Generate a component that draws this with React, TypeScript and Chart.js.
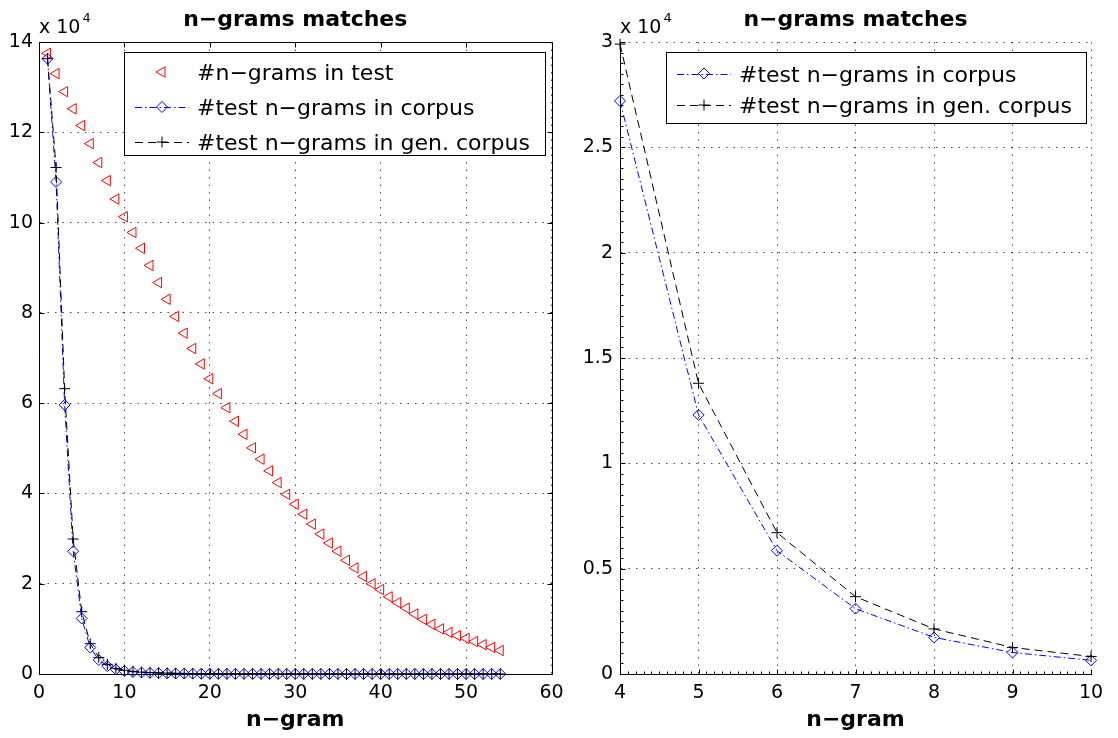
import React, { useEffect, useRef } from "react";
import { Chart, registerables } from "chart.js";

Chart.register(...registerables);

const FONT = "'DejaVu Sans', 'Liberation Sans', sans-serif";

// ---------------- data ----------------
const nGram = [
  1, 2, 3, 4, 5, 6, 7, 8, 9, 10, 11, 12, 13, 14, 15, 16, 17, 18, 19, 20,
  21, 22, 23, 24, 25, 26, 27, 28, 29, 30, 31, 32, 33, 34, 35, 36, 37, 38, 39, 40,
  41, 42, 43, 44, 45, 46, 47, 48, 49, 50, 51, 52, 53, 54,
];

const testNgrams = [
  137500, 133000, 129000, 125200, 121500, 117500, 113300, 109300, 105200, 101300,
  97800, 94300, 90500, 86700, 83000, 79200, 75500, 72100, 68700, 65400,
  62100, 59000, 56000, 53100, 50100, 47600, 45000, 42400, 39800, 37600,
  35400, 33200, 31000, 29000, 27200, 25200, 23500, 21600, 20000, 18700,
  17100, 15800, 14600, 13300, 12100, 11000, 10000, 9200, 8500, 7900,
  7200, 6500, 5900, 5200,
];

const corpusMatches = [
  136300, 109000, 59600, 27200, 12300, 5850, 3100, 1740, 1020, 650,
  450, 320, 240, 180, 140, 110, 90, 75, 62, 52,
  44, 38, 33, 29, 25, 22, 19, 17, 15, 13,
  12, 11, 10, 9, 8, 7, 7, 6, 6, 5,
  5, 4, 4, 4, 3, 3, 3, 2, 2, 2,
  2, 1, 1, 1,
];

const genCorpusMatches = [
  136300, 112200, 63200, 29900, 13800, 6710, 3670, 2140, 1260, 830,
  580, 420, 320, 250, 200, 160, 130, 110, 92, 78,
  66, 57, 49, 43, 38, 33, 29, 26, 23, 21,
  19, 17, 15, 14, 12, 11, 10, 9, 8, 8,
  7, 6, 6, 5, 5, 4, 4, 4, 3, 3,
  3, 2, 2, 2,
];

const labelTest = "#n\u2212grams in test";
const labelCorpus = "#test n\u2212grams in corpus";
const labelGen = "#test n\u2212grams in gen. corpus";
const chartTitle = "n\u2212grams matches";
const xTitle = "n\u2212gram";
const expBase = "x 10";
const expPower = "4";

const leftXTicks = [0, 10, 20, 30, 40, 50, 60];
const leftYTicks = [0, 20000, 40000, 60000, 80000, 100000, 120000, 140000];
const rightXTicks = [4, 5, 6, 7, 8, 9, 10];
const rightYTicks = [0, 5000, 10000, 15000, 20000, 25000, 30000];
const yDivisor = 10000;

// ---------------- helpers ----------------
function drawMarker(ctx: CanvasRenderingContext2D, style: string, x: number, y: number, r: number, color: string) {
  ctx.save();
  ctx.setLineDash([]);
  ctx.strokeStyle = color;
  ctx.lineWidth = 1;
  ctx.beginPath();
  if (style === "triangle") {
    let rad = -Math.PI / 2;
    ctx.moveTo(x + Math.sin(rad) * r, y - Math.cos(rad) * r);
    rad += (2 * Math.PI) / 3;
    ctx.lineTo(x + Math.sin(rad) * r, y - Math.cos(rad) * r);
    rad += (2 * Math.PI) / 3;
    ctx.lineTo(x + Math.sin(rad) * r, y - Math.cos(rad) * r);
    ctx.closePath();
  } else if (style === "rectRot") {
    ctx.moveTo(x - r, y);
    ctx.lineTo(x, y - r);
    ctx.lineTo(x + r, y);
    ctx.lineTo(x, y + r);
    ctx.closePath();
  } else if (style === "cross") {
    ctx.moveTo(x - r, y);
    ctx.lineTo(x + r, y);
    ctx.moveTo(x, y - r);
    ctx.lineTo(x, y + r);
  }
  ctx.stroke();
  ctx.restore();
}

type LegendSpec = { left: number; top: number; right: number; bottom: number; baselines: number[] };
type DecorSpec = {
  fullBox: boolean;
  xMajor: number[];
  yMajor: number[];
  xMinorStep?: number;
  yMinorStep?: number;
  legend: LegendSpec;
};

function makeDecor(spec: DecorSpec) {
  return {
    id: "decor",
    afterDraw(chart: any) {
      const ctx: CanvasRenderingContext2D = chart.ctx;
      const a = chart.chartArea;
      const xs = chart.scales.x;
      const ys = chart.scales.y;
      const px = (v: number) => Math.round(v) + 0.5;
      const L = px(a.left), R = px(a.right), T = px(a.top), B = px(a.bottom);
      ctx.save();
      ctx.setLineDash([]);
      ctx.strokeStyle = "#000";
      ctx.lineWidth = 1;
      ctx.beginPath();
      if (spec.fullBox) {
        ctx.moveTo(L, T);
        ctx.lineTo(R, T);
        ctx.lineTo(R, B);
      }
      for (const v of spec.xMajor) {
        const x = px(xs.getPixelForValue(v));
        ctx.moveTo(x, B);
        ctx.lineTo(x, B - 5);
        if (spec.fullBox) {
          ctx.moveTo(x, T);
          ctx.lineTo(x, T + 5);
        }
      }
      for (const v of spec.yMajor) {
        const y = px(ys.getPixelForValue(v));
        ctx.moveTo(L, y);
        ctx.lineTo(L + 5, y);
        if (spec.fullBox) {
          ctx.moveTo(R, y);
          ctx.lineTo(R - 5, y);
        }
      }
      if (spec.xMinorStep) {
        const n = Math.round((xs.max - xs.min) / spec.xMinorStep);
        for (let k = 1; k < n; k++) {
          const x = px(xs.getPixelForValue(xs.min + k * spec.xMinorStep));
          ctx.moveTo(x, B);
          ctx.lineTo(x, B - 3);
        }
      }
      if (spec.yMinorStep) {
        const n = Math.round((ys.max - ys.min) / spec.yMinorStep);
        for (let k = 1; k < n; k++) {
          const y = px(ys.getPixelForValue(ys.min + k * spec.yMinorStep));
          ctx.moveTo(L, y);
          ctx.lineTo(L + 3, y);
        }
      }
      ctx.stroke();

      const cx = (a.left + a.right) / 2;
      ctx.fillStyle = "#000";
      ctx.textAlign = "center";
      ctx.textBaseline = "alphabetic";
      ctx.font = `bold 22px ${FONT}`;
      ctx.fillText(chartTitle, cx, 26);
      ctx.fillText(xTitle, cx, 726);

      ctx.textAlign = "left";
      ctx.font = `19px ${FONT}`;
      ctx.fillText(expBase, a.left, 33);
      const w = ctx.measureText(expBase).width;
      ctx.font = `13px ${FONT}`;
      ctx.fillText(expPower, a.left + w + 2, 22);

      // legend
      const lg = spec.legend;
      ctx.fillStyle = "#fff";
      ctx.fillRect(lg.left, lg.top, lg.right - lg.left, lg.bottom - lg.top);
      ctx.strokeStyle = "#000";
      ctx.strokeRect(px(lg.left), px(lg.top), Math.round(lg.right - lg.left), Math.round(lg.bottom - lg.top));
      const dss = chart.data.datasets;
      dss.forEach((ds: any, i: number) => {
        const base = lg.baselines[i];
        const my = base - 8;
        if (ds.showLine) {
          ctx.save();
          ctx.strokeStyle = ds.borderColor;
          ctx.lineWidth = 1;
          ctx.setLineDash(ds.borderDash || []);
          ctx.beginPath();
          ctx.moveTo(lg.left + 11, px(my));
          ctx.lineTo(lg.left + 65, px(my));
          ctx.stroke();
          ctx.restore();
        }
        drawMarker(ctx, ds.pointStyle, lg.left + 38, my, ds.pointRadius, ds.pointBorderColor);
        ctx.fillStyle = "#000";
        ctx.font = `22px ${FONT}`;
        ctx.textAlign = "left";
        ctx.textBaseline = "alphabetic";
        ctx.fillText(ds.label, lg.left + 73, base);
      });
      ctx.restore();
    },
  };
}

function pts(ys: number[], lo: number, hi: number) {
  return nGram
    .map((x, i) => ({ x, y: ys[i] }))
    .filter((p) => p.x >= lo && p.x <= hi);
}

function redSet(lo: number, hi: number) {
  return {
    label: labelTest,
    data: pts(testNgrams, lo, hi),
    showLine: false,
    pointStyle: "triangle",
    pointRotation: -90,
    pointRadius: 6,
    pointBorderColor: "#ff0000",
    pointBackgroundColor: "rgba(0,0,0,0)",
    pointBorderWidth: 1,
    borderColor: "#ff0000",
    order: 3,
    clip: false,
  };
}
function blueSet(lo: number, hi: number) {
  return {
    label: labelCorpus,
    data: pts(corpusMatches, lo, hi),
    showLine: true,
    borderColor: "#0000ff",
    borderWidth: 1,
    borderDash: [7, 3, 1.5, 3],
    tension: 0,
    pointStyle: "rectRot",
    pointRadius: 5.5,
    pointBorderColor: "#0000ff",
    pointBackgroundColor: "rgba(0,0,0,0)",
    pointBorderWidth: 1,
    order: 2,
    clip: false,
  };
}
function blackSet(lo: number, hi: number) {
  return {
    label: labelGen,
    data: pts(genCorpusMatches, lo, hi),
    showLine: true,
    borderColor: "#000000",
    borderWidth: 1,
    borderDash: [8, 5],
    tension: 0,
    pointStyle: "cross",
    pointRadius: 5.5,
    pointBorderColor: "#000000",
    pointBackgroundColor: "rgba(0,0,0,0)",
    pointBorderWidth: 1,
    order: 1,
    clip: false,
  };
}

function buildConfig(p: {
  datasets: any[];
  xMin: number; xMax: number; xStep: number;
  yMin: number; yMax: number; yStep: number;
  yAxisWidth: number; padRight: number; yLabelPad: number;
  decor: any;
}): any {
  const gridCommon = { color: "rgba(0,0,0,0.7)", lineWidth: 1, drawTicks: false };
  const borderCommon = { display: true, color: "#000", width: 1, dash: [1.5, 6] };
  return {
    type: "scatter",
    data: { datasets: p.datasets },
    options: {
      responsive: false,
      maintainAspectRatio: false,
      animation: false,
      devicePixelRatio: 1,
      events: [],
      layout: { padding: { top: 42, right: p.padRight, bottom: 0, left: 0 } },
      plugins: {
        legend: { display: false },
        tooltip: { enabled: false },
        title: { display: false },
      },
      scales: {
        x: {
          type: "linear",
          min: p.xMin,
          max: p.xMax,
          ticks: {
            stepSize: p.xStep,
            autoSkip: false,
            maxRotation: 0,
            color: "#000",
            padding: 8,
            font: { family: FONT, size: 19 },
          },
          grid: gridCommon,
          border: borderCommon,
          afterFit: (s: any) => {
            s.height = 64;
          },
        },
        y: {
          type: "linear",
          min: p.yMin,
          max: p.yMax,
          ticks: {
            stepSize: p.yStep,
            autoSkip: false,
            color: "#000",
            padding: p.yLabelPad,
            font: { family: FONT, size: 19 },
            callback: (v: any) => String(Number(v) / yDivisor),
          },
          grid: gridCommon,
          border: borderCommon,
          afterFit: (s: any) => {
            s.width = p.yAxisWidth;
          },
        },
      },
    },
    plugins: [p.decor],
  };
}

function Panel({ left, width, build }: { left: number; width: number; build: () => any }) {
  const ref = useRef<HTMLCanvasElement | null>(null);
  useEffect(() => {
    if (!ref.current) return;
    const chart = new Chart(ref.current, build());
    return () => chart.destroy();
  }, []);
  return (
    <canvas
      ref={ref}
      width={width}
      height={738}
      style={{ position: "absolute", left, top: 0, width, height: 738, display: "block" }}
    />
  );
}

const buildLeft = () =>
  buildConfig({
    datasets: [redSet(0, 60), blueSet(0, 60), blackSet(0, 60)],
    xMin: 0, xMax: 60, xStep: 10,
    yMin: 0, yMax: 140000, yStep: 20000,
    yAxisWidth: 39, padRight: 23.5, yLabelPad: 6,
    decor: makeDecor({
      fullBox: true,
      xMajor: leftXTicks,
      yMajor: leftYTicks,
      legend: { left: 124, top: 52, right: 545, bottom: 155, baselines: [80, 115, 150] },
    }),
  });

const buildRight = () =>
  buildConfig({
    datasets: [blueSet(4, 10), blackSet(4, 10)],
    xMin: 4, xMax: 10, xStep: 1,
    yMin: 0, yMax: 30000, yStep: 5000,
    yAxisWidth: 60, padRight: 27, yLabelPad: 7,
    decor: makeDecor({
      fullBox: false,
      xMajor: rightXTicks,
      yMajor: rightYTicks,
      xMinorStep: 0.1,
      yMinorStep: 500,
      legend: { left: 106, top: 52, right: 526, bottom: 123, baselines: [81.5, 113] },
    }),
  });

export default function App() {
  return (
    <div style={{ position: "absolute", left: 0, top: 0, width: 1118, height: 738, background: "#fff", overflow: "hidden" }}>
      <Panel left={560} width={558} build={buildRight} />
      <Panel left={0} width={575} build={buildLeft} />
    </div>
  );
}
